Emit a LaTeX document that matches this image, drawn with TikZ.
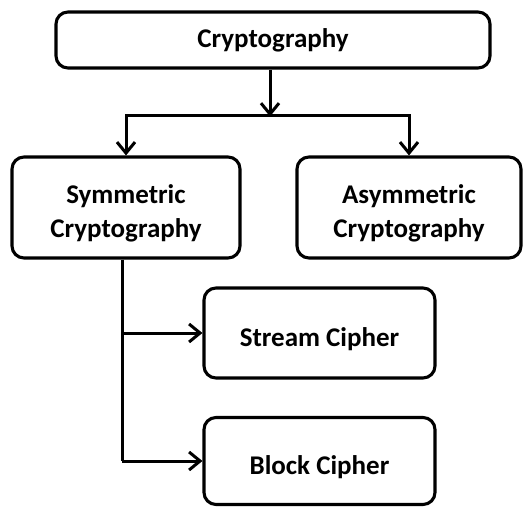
\documentclass[tikz,border=0pt]{standalone}
\usepackage{fontspec}
\setmainfont{Carlito}
\usetikzlibrary{arrows.meta}
\newcommand{\dnstrut}{\rule{0pt}{30pt}}
\newcommand{\lowstrut}{\rule{0pt}{31pt}}
\begin{document}
\begin{tikzpicture}[x=1pt,y=-1pt,
  box/.style={draw=black, line width=3.1pt, rounded corners=12pt, fill=white,
    align=center, font=\bfseries\fontsize{27}{34}\selectfont, inner sep=0pt},
  conn/.style={line width=3pt, -{Straight Barb[length=11pt,width=18pt,line width=3pt]}}]
\useasboundingbox (0,0) rectangle (523,507);
\node[box, minimum width=434pt, minimum height=56pt] (top) at (273,40) {Cryptography};
\node[box, minimum width=228pt, minimum height=101pt] (sym) at (126,207.5) {\dnstrut Symmetric\\Cryptography};
\node[box, minimum width=224pt, minimum height=101pt] (asym) at (409,207.5) {\dnstrut Asymmetric\\Cryptography};
\node[box, minimum width=231pt, minimum height=90pt] (stream) at (319.5,333) {\lowstrut Stream Cipher};
\node[box, minimum width=231pt, minimum height=87pt] (block) at (319.5,461) {\lowstrut Block Cipher};
\coordinate (j) at (270,115);
\coordinate (v) at (122,258);
\draw[conn] (top.south -| j) -- ([yshift=-1.5pt]j);
\draw[conn] (j) -| (sym.north);
\draw[conn] (j) -| (asym.north);
\draw[line width=3pt] (sym.south -| v) -- (v |- block.west);
\draw[conn] (v |- stream.west) -- (stream.west);
\draw[conn] (v |- block.west) -- (block.west);
\end{tikzpicture}
\end{document}
